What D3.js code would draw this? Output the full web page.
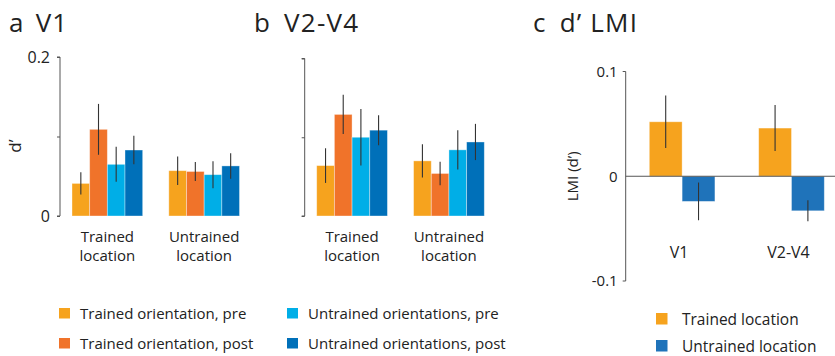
<!DOCTYPE html>
<html><head><meta charset="utf-8">
<script src="https://cdn.jsdelivr.net/npm/d3@7"></script>
<style>body{margin:0;background:#fff}svg{display:block}text{font-family:"Open Sans",Lato,sans-serif;fill:#222}</style>
</head><body><svg id="c" width="835" height="356"></svg>
<script>
const groups = ["Trained location", "Untrained location"];
const seriesNames = ["Trained orientation, pre","Trained orientation, post","Untrained orientations, pre","Untrained orientations, post"];
const seriesColors = ["#F6A31E","#F0732A","#00AEE7","#0070B9"];
// panel a: V1
const v1Values = [[0.041,0.109,0.065,0.083],[0.057,0.056,0.052,0.063]];
const v1Errors = [[0.014,0.032,0.022,0.018],[0.018,0.012,0.017,0.016]];
// panel b: V2-V4
const v24Values = [[0.064,0.129,0.100,0.109],[0.070,0.054,0.084,0.094]];
const v24Errors = [[0.022,0.025,0.036,0.019],[0.021,0.015,0.025,0.023]];
// panel c: LMI
const lmiGroups = ["V1","V2-V4"];
const lmiSeries = ["Trained location","Untrained location"];
const lmiColors = ["#F6A31E","#1F73BA"];
const lmiValues = [[0.052,-0.024],[0.046,-0.033]];
const lmiErrors = [[0.025,0.018],[0.022,0.010]];
const dTicks = [0, 0.1, 0.2];
const dTickLabels = ["0", "", "0.2"];
const lmiTicks = [-0.1, 0, 0.1];
const lmiTickLabels = ["-0.1","0","0.1"];

const FONT = "\"Open Sans\",Lato,sans-serif";
const svg = d3.select("#c");

function title(x, letter, name, gap){
  const t = svg.append("text").attr("x", x).attr("y", 32).style("font-size","26px").style("letter-spacing","1.2px");
  t.append("tspan").text(letter);
  t.append("tspan").attr("dx", gap).text(name);
}
title(9, "a", "V1", 11);
title(254, "b", "V2-V4", 13);
title(533, "c", "d\u2019 LMI", 13);

function groupedPanel(xr, yr, values, errors, showLabels){
  const x0 = d3.scaleBand().domain(groups).range(xr).paddingInner(0.27).paddingOuter(0);
  const x1 = d3.scaleBand().domain(d3.range(seriesNames.length)).range([0, x0.bandwidth()]);
  const y = d3.scaleLinear().domain([0, 0.2]).range(yr);
  const g = svg.append("g");
  const axis = d3.axisLeft(y).tickValues(dTicks).tickSize(3).tickPadding(7)
    .tickFormat((d,i)=> showLabels ? dTickLabels[i] : "");
  const ax = g.append("g").attr("transform", `translate(${xr[0]-12},0)`).call(axis);
  ax.select(".domain").attr("stroke","#555").attr("d", `M-3,${y(0.2)}H0V${y(0)}H-3`);
  ax.selectAll(".tick line").attr("stroke","#555");
  ax.selectAll(".tick text").style("font-size","16px").attr("fill","#222").style("font-family",FONT);
  groups.forEach((gr, gi) => {
    const gg = g.append("g").attr("transform", `translate(${x0(gr)},0)`);
    gg.selectAll("rect").data(values[gi]).join("rect")
      .attr("x", (d,i)=>x1(i)).attr("width", x1.bandwidth())
      .attr("y", d=>y(d)).attr("height", d=>y(0)-y(d))
      .attr("fill", (d,i)=>seriesColors[i]).attr("stroke","#fff").attr("stroke-opacity",0.45).attr("stroke-width",0.8);
    gg.selectAll("line").data(values[gi]).join("line")
      .attr("x1",(d,i)=>x1(i)+x1.bandwidth()/2).attr("x2",(d,i)=>x1(i)+x1.bandwidth()/2)
      .attr("y1",(d,i)=>y(d+errors[gi][i])).attr("y2",(d,i)=>y(d-errors[gi][i]))
      .attr("stroke","#333").attr("stroke-width",1.1);
    const words = gr.split(" ");
    const cx = x0(gr)+x0.bandwidth()/2;
    const lbl = g.append("text").attr("text-anchor","middle").style("font-size","15px");
    lbl.append("tspan").attr("x", cx).attr("y", 242).text(words[0]);
    lbl.append("tspan").attr("x", cx).attr("y", 261).text(words[1]);
  });
}
groupedPanel([72, 239.5], [216, 57], v1Values, v1Errors, true);
groupedPanel([316.7, 484.3], [216, 58.5], v24Values, v24Errors, false);

svg.append("text").attr("transform","translate(21,146) rotate(-90)").attr("text-anchor","middle")
  .style("font-size","17px").text("d\u2019");

// panel c
(function(){
  const x0 = d3.scaleBand().domain(lmiGroups).range([649.3, 824.3]).paddingInner(0.4).paddingOuter(0);
  const x1 = d3.scaleBand().domain(d3.range(lmiSeries.length)).range([0, x0.bandwidth()]);
  const y = d3.scaleLinear().domain([-0.1, 0.1]).range([281, 71.5]);
  const g = svg.append("g");
  const axis = d3.axisLeft(y).tickValues(lmiTicks).tickSize(0).tickPadding(8)
    .tickFormat((d,i)=>lmiTickLabels[i]);
  const ax = g.append("g").attr("transform","translate(625.7,0)").call(axis);
  ax.select(".domain").attr("stroke","#555").attr("d", `M-3,${y(0.1)}H0V${y(-0.1)}H-3`);
  ax.selectAll(".tick text").style("font-size","15px").attr("fill","#222").style("font-family",FONT);
  lmiGroups.forEach((gr, gi) => {
    const gg = g.append("g").attr("transform", `translate(${x0(gr)},0)`);
    gg.selectAll("rect").data(lmiValues[gi]).join("rect")
      .attr("x",(d,i)=>x1(i)).attr("width", x1.bandwidth())
      .attr("y", d=>y(Math.max(0,d))).attr("height", d=>Math.abs(y(d)-y(0)))
      .attr("fill",(d,i)=>lmiColors[i]).attr("stroke","#fff").attr("stroke-opacity",0.45).attr("stroke-width",0.8);
    gg.selectAll("line").data(lmiValues[gi]).join("line")
      .attr("x1",(d,i)=>x1(i)+x1.bandwidth()/2).attr("x2",(d,i)=>x1(i)+x1.bandwidth()/2)
      .attr("y1",(d,i)=>y(d+lmiErrors[gi][i])).attr("y2",(d,i)=>y(d-lmiErrors[gi][i]))
      .attr("stroke","#333").attr("stroke-width",1.1);
    g.append("text").attr("text-anchor","middle").style("font-size","16px")
      .attr("x", x0(gr)+x0.bandwidth()/2 - 3).attr("y", 258).text(gr);
  });
  g.append("line").attr("x1",625.7).attr("x2",835).attr("y1",y(0)).attr("y2",y(0)).attr("stroke","#555").attr("stroke-width",1);
  svg.append("text").attr("transform",`translate(578,${y(0)}) rotate(-90)`).attr("text-anchor","middle")
    .style("font-size","15px").text("LMI (d\u2019)");
  lmiSeries.forEach((s,i)=>{
    const yy = 313 + i*27;
    svg.append("rect").attr("x",656).attr("y",yy).attr("width",11.5).attr("height",11.5).attr("fill",lmiColors[i]);
    svg.append("text").attr("x",682).attr("y",yy+11.5).style("font-size","15.5px").text(s);
  });
})();

// legend a/b
seriesNames.forEach((s,i)=>{
  const col = Math.floor(i/2), row = i%2;
  const xx = col ? 287 : 59, yy = 308 + row*30;
  svg.append("rect").attr("x",xx).attr("y",yy).attr("width",11).attr("height",10.5).attr("fill",seriesColors[i]);
  svg.append("text").attr("x",xx+21).attr("y",yy+11).style("font-size","15px").text(s);
});
</script></body></html>
